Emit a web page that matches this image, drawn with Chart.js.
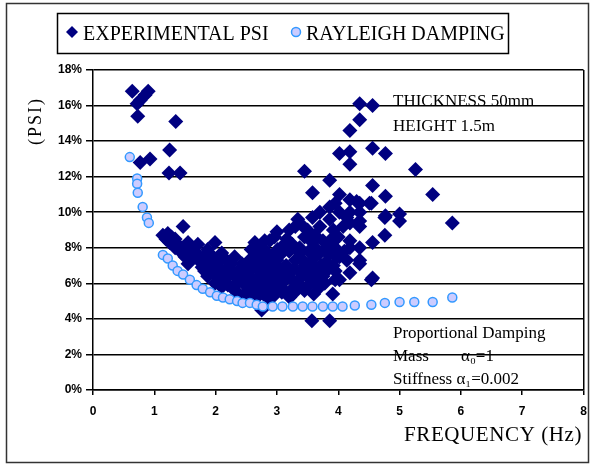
<!DOCTYPE html>
<html>
<head>
<meta charset="utf-8">
<script src="https://cdn.jsdelivr.net/npm/chart.js@4.4.0/dist/chart.umd.min.js"></script>
<style>
  html, body { margin: 0; padding: 0; background: #fff; }
  #wrap { width: 591px; height: 466px; }
</style>
</head>
<body>
<div id="wrap"><canvas id="psiChart" width="591" height="466"></canvas></div>
<script>
// Experimental PSI points (frequency in Hz, PSI in %)
const psiFreq = [
  0.64, 0.90, 0.85, 0.77, 0.72, 0.73, 1.35, 1.25, 0.77, 0.93, 1.24, 1.42, 1.47,
  1.14, 1.22, 1.19, 1.34, 1.38, 1.25, 1.34, 1.42, 1.45, 1.50, 1.55, 1.55, 1.61, 1.66, 1.70, 1.71,
  1.75, 1.78, 1.82, 1.87, 1.87, 1.90, 1.95, 1.99, 1.99, 1.99, 2.05, 2.10, 2.10, 2.10, 2.15, 2.20,
  2.20, 2.20, 2.25, 2.31, 2.31, 2.31, 2.35, 2.40, 2.43, 2.43, 2.45, 2.50, 2.52, 2.52, 2.55, 2.58,
  2.60, 2.60, 2.64, 2.64, 2.64, 2.65, 2.70, 2.70, 2.75, 2.75, 2.75, 2.75, 2.80, 2.80, 2.85, 2.85,
  2.90, 2.90, 2.96, 2.96, 2.96, 3.01, 3.08,
  1.28, 1.47, 1.58, 1.62, 1.80, 1.85, 1.93, 2.02, 2.05, 2.15, 2.18, 2.28, 2.38, 2.38, 2.48, 2.48,
  2.55, 2.58, 2.68, 2.68, 2.72, 2.78, 2.82, 2.82, 2.92, 2.92, 2.95, 3.03, 3.05, 3.05, 3.12, 3.12,
  3.20, 3.28, 3.28, 3.35, 3.40, 3.40, 3.45, 3.52, 3.55, 3.62, 3.65, 3.72, 3.78, 3.78, 3.85, 3.92,
  3.20, 3.40, 3.62, 3.75, 3.92, 4.00, 3.70, 3.95, 4.08,
  2.88, 3.00, 3.16, 3.09, 3.00, 3.15, 3.25, 3.30, 3.21, 3.25, 3.09, 3.00, 2.88, 2.88, 3.21, 3.15,
  3.32, 3.42, 3.37, 3.37, 3.45, 3.45, 3.49, 3.53, 3.55, 3.58, 3.60, 3.60, 3.65, 3.70, 3.70, 3.75,
  3.80, 3.80, 3.86, 3.86, 3.89, 3.91, 3.95, 3.95, 3.95, 3.97, 4.02, 4.10, 4.14, 4.02, 3.30, 3.34,
  3.50, 3.58, 3.70, 3.86, 3.86, 4.02, 4.02, 4.14, 3.58, 3.45, 3.86, 3.57, 3.86,
  4.19, 4.19, 4.35, 4.35, 4.35, 4.19, 4.54, 4.56, 4.56, 4.76, 4.35, 4.19, 4.35, 4.19, 4.35, 4.19,
  4.30, 4.35, 4.51, 4.54, 4.76, 4.77, 5.00, 5.00, 4.77, 4.56, 5.54, 5.86, 4.19, 4.02, 4.19, 4.56,
  4.77, 5.26, 4.19, 4.35, 4.35, 4.56
];
const psiValue = [
  16.8, 16.8, 16.6, 16.3, 16.1, 15.4, 15.1, 13.5, 12.8, 13.0, 12.2, 12.2, 9.2,
  8.7, 8.8, 8.5, 8.5, 8.2, 8.3, 8.0, 7.9, 7.7, 7.5, 8.3, 7.1, 7.4, 7.8, 7.6, 8.2,
  7.2, 6.9, 6.7, 7.9, 6.4, 7.0, 6.6, 8.3, 7.3, 6.0, 6.9, 7.7, 6.4, 5.8, 6.2, 6.9,
  6.6, 5.9, 7.1, 7.5, 6.4, 5.6, 6.0, 6.8, 7.1, 5.2, 6.1, 5.5, 6.6, 5.8, 7.3, 7.9,
  6.9, 6.2, 8.3, 7.5, 5.1, 5.6, 7.1, 6.4, 8.0, 6.7, 6.0, 4.5, 8.4, 5.7, 7.7, 5.2,
  6.5, 5.6, 8.6, 6.9, 6.2, 7.9, 5.5,
  8.6, 8.0, 7.8, 8.0, 7.5, 7.3, 7.6, 7.1, 6.3, 7.4, 6.0, 6.7, 6.3, 5.4, 6.9, 5.9,
  6.0, 5.4, 5.9, 6.8, 7.6, 5.4, 6.3, 7.2, 7.4, 6.0, 5.3, 6.4, 6.8, 7.6, 6.4, 8.2,
  7.8, 6.8, 5.8, 6.2, 7.4, 6.6, 5.6, 7.8, 6.7, 6.2, 7.9, 7.0, 6.6, 6.0, 7.6, 7.0,
  9.0, 9.3, 8.7, 8.4, 9.0, 8.6, 10.0, 10.5, 9.2,
  8.4, 8.9, 8.5, 7.9, 7.3, 7.0, 8.2, 7.3, 6.6, 6.2, 6.0, 5.8, 6.7, 5.2, 5.2, 5.5,
  5.6, 5.8, 7.7, 8.0, 8.6, 7.0, 6.4, 7.1, 6.0, 8.3, 7.4, 5.4, 6.8, 7.7, 5.8, 6.4,
  8.0, 7.2, 6.9, 8.3, 8.5, 5.4, 8.0, 6.7, 6.2, 7.5, 6.2, 7.8, 7.3, 7.5, 9.2, 9.6,
  9.0, 9.7, 9.2, 9.6, 10.3, 10.0, 11.0, 9.7, 11.1, 12.3, 11.8, 3.9, 3.9,
  8.4, 8.0, 8.0, 7.3, 7.1, 6.6, 6.2, 6.3, 8.3, 8.7, 9.2, 9.4, 9.5, 10.0, 10.0, 10.7,
  10.6, 10.5, 10.5, 10.5, 9.7, 9.8, 9.9, 9.5, 10.9, 11.5, 11.0, 9.4, 12.7, 13.3, 13.4, 13.6,
  13.3, 12.4, 14.6, 15.2, 16.1, 16.0
];

// Rayleigh damping curve points
const rayFreq = [
  0.60, 0.72, 0.72, 0.73, 0.81, 0.88, 0.91, 1.14, 1.22, 1.30, 1.38, 1.47, 1.58, 1.69, 1.79, 1.91,
  2.02, 2.12, 2.23, 2.35, 2.44, 2.56, 2.67, 2.77, 2.93, 3.09, 3.26, 3.42, 3.58, 3.75, 3.91, 4.07,
  4.27, 4.54, 4.76, 5.00, 5.24, 5.54, 5.86
];
const rayValue = [
  13.1, 11.9, 11.6, 11.1, 10.3, 9.7, 9.4, 7.6, 7.4, 7.0, 6.7, 6.5, 6.2, 5.9, 5.7, 5.5,
  5.3, 5.2, 5.1, 5.0, 4.9, 4.9, 4.8, 4.7, 4.7, 4.7, 4.7, 4.7, 4.7, 4.7, 4.7, 4.7,
  4.75, 4.8, 4.9, 4.95, 4.95, 4.95, 5.2
];

const xTicks = [0, 1, 2, 3, 4, 5, 6, 7, 8];
const yTicks = [0, 2, 4, 6, 8, 10, 12, 14, 16, 18];

const seriesNames = ['EXPERIMENTAL PSI', 'RAYLEIGH DAMPING'];
const notesTop = ['THICKNESS 50mm', 'HEIGHT 1.5m'];
const notesBottom = ['Proportional Damping', 'Mass', 'α₀=1', 'Stiffness α₁=0.002'];

const toPoints = (xs, ys) => xs.map((x, i) => ({ x: x, y: ys[i] }));

const serif = '"Liberation Serif", "Times New Roman", serif';

// Draws the frame, legend box, axis titles and notes
const decorPlugin = {
  id: 'decor',
  beforeDraw(chart) {
    const ctx = chart.ctx;
    ctx.save();
    ctx.fillStyle = '#fff';
    ctx.fillRect(0, 0, chart.width, chart.height);
    ctx.restore();
  },
  afterDraw(chart) {
    const ctx = chart.ctx;
    ctx.save();

    // outer frame
    ctx.strokeStyle = '#333';
    ctx.lineWidth = 1.5;
    ctx.strokeRect(6.5, 3.5, 582, 459);

    // legend box
    ctx.strokeStyle = '#000';
    ctx.lineWidth = 1.5;
    ctx.strokeRect(57.5, 13.5, 451, 40);

    // legend markers
    ctx.fillStyle = '#000080';
    ctx.beginPath();
    ctx.moveTo(72, 26); ctx.lineTo(78, 32); ctx.lineTo(72, 38); ctx.lineTo(66, 32);
    ctx.closePath();
    ctx.fill();

    ctx.fillStyle = '#ccccff';
    ctx.strokeStyle = '#3399ff';
    ctx.lineWidth = 1.5;
    ctx.beginPath();
    ctx.arc(296, 32, 4.5, 0, Math.PI * 2);
    ctx.fill();
    ctx.stroke();

    ctx.fillStyle = '#000';
    ctx.textBaseline = 'alphabetic';
    ctx.textAlign = 'left';
    ctx.font = '20px ' + serif;
    ctx.fillText(seriesNames[0], 83, 40);
    ctx.fillText(seriesNames[1], 306, 40);

    // x axis title
    ctx.font = '21px ' + serif;
    ctx.letterSpacing = '0.6px';
    ctx.fillText('FREQUENCY (Hz)', 404, 441);

    // y axis title
    ctx.save();
    ctx.translate(41, 121);
    ctx.rotate(-Math.PI / 2);
    ctx.textAlign = 'center';
    ctx.font = '18px ' + serif;
    ctx.letterSpacing = '2px';
    ctx.fillText('(PSI)', 0, 0);
    ctx.restore();

    // notes inside the plot
    ctx.letterSpacing = '0px';
    ctx.font = '17px ' + serif;
    ctx.fillText(notesTop[0], 393, 106);
    ctx.fillText(notesTop[1], 393, 131);
    ctx.fillText(notesBottom[0], 393, 338);
    ctx.fillText(notesBottom[1], 393, 361);
    ctx.fillText(notesBottom[2], 461, 361);
    ctx.fillText(notesBottom[3], 393, 384);

    ctx.restore();
  }
};

const tickFont = { family: '"Liberation Sans", Arial, sans-serif', size: 12, weight: 'bold' };

new Chart(document.getElementById('psiChart').getContext('2d'), {
  type: 'scatter',
  data: {
    datasets: [
      {
        label: seriesNames[0],
        data: toPoints(psiFreq, psiValue),
        pointStyle: 'rectRot',
        pointRadius: 7.5,
        backgroundColor: '#000080',
        borderColor: '#000080',
        borderWidth: 0,
        order: 1
      },
      {
        label: seriesNames[1],
        data: toPoints(rayFreq, rayValue),
        pointStyle: 'circle',
        pointRadius: 4.5,
        backgroundColor: '#ccccff',
        borderColor: '#3399ff',
        borderWidth: 1.5,
        order: 0
      }
    ]
  },
  options: {
    responsive: false,
    animation: false,
    devicePixelRatio: 1,
    layout: { padding: { top: 70, right: 7, left: 0, bottom: 0 } },
    plugins: {
      legend: { display: false },
      tooltip: { enabled: false }
    },
    scales: {
      x: {
        type: 'linear',
        min: 0,
        max: 8,
        afterBuildTicks: (scale) => { scale.ticks = xTicks.map(v => ({ value: v })); },
        ticks: { color: '#000', font: tickFont, padding: 9, maxRotation: 0 },
        grid: {
          color: (c) => (c.tick && c.tick.value === 8 ? '#000' : 'rgba(0,0,0,0)'),
          tickColor: '#000',
          tickLength: 5,
          lineWidth: 1.5
        },
        border: { color: '#000', width: 1.5 },
        afterFit: (scale) => {
          scale.height = 76;
          scale.paddingLeft = 0;
          scale.paddingRight = 0;
        }
      },
      y: {
        min: 0,
        max: 18,
        afterBuildTicks: (scale) => { scale.ticks = yTicks.map(v => ({ value: v })); },
        ticks: { color: '#000', font: tickFont, padding: 4, callback: (v) => v + '%' },
        grid: { color: '#000', tickLength: 7, lineWidth: 1.5 },
        border: { color: '#000', width: 1.5 },
        afterFit: (scale) => {
          scale.width = 93;
          scale.paddingTop = 0;
          scale.paddingBottom = 0;
        }
      }
    }
  },
  plugins: [decorPlugin]
});
</script>
</body>
</html>
